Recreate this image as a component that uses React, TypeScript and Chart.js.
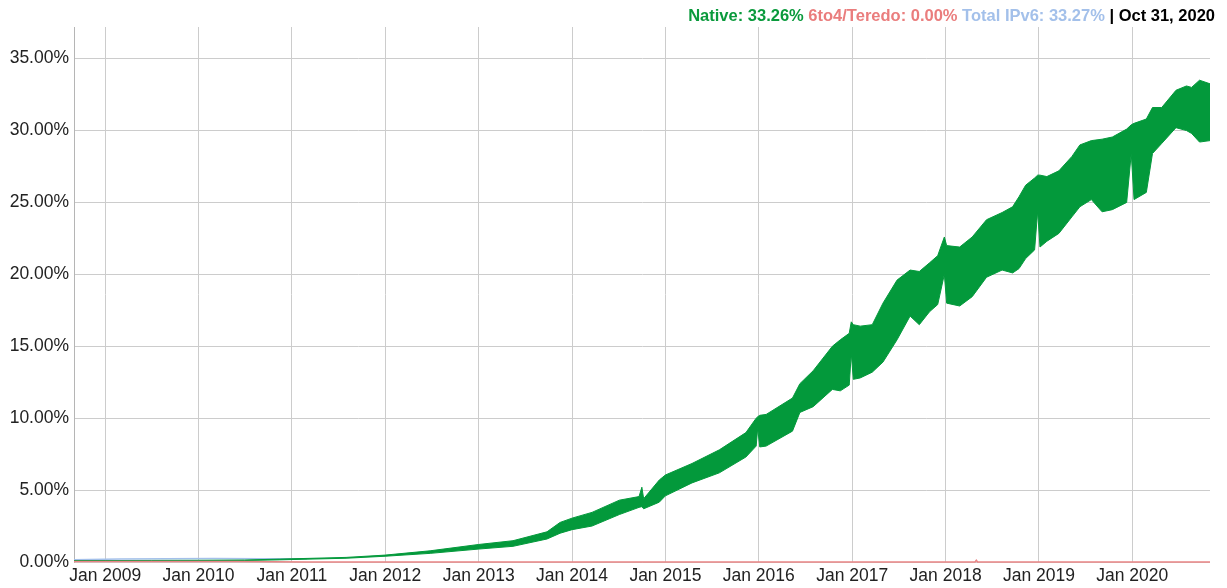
import React, { useEffect, useRef } from "react";
import { Chart, registerables } from "chart.js";

Chart.register(...registerables);

// ---- Data ----
// Native IPv6: weekly oscillation shown as an envelope (weekday low / weekend high)
const nativeDates: string[] = [
  "2008-09-01", "2009-01-01", "2009-07-01", "2010-01-01", "2010-07-01", "2010-11-15",
  "2011-08-01", "2012-01-01", "2012-06-25", "2013-01-01", "2013-05-15", "2013-09-25",
  "2013-11-15", "2014-01-01", "2014-03-20", "2014-07-05", "2014-09-20", "2014-10-01",
  "2014-10-08", "2014-12-08", "2015-01-01", "2015-04-15", "2015-07-31", "2015-11-12",
  "2015-12-22", "2015-12-28", "2016-01-05", "2016-01-30", "2016-05-12", "2016-06-10",
  "2016-08-01", "2016-10-15", "2016-11-15", "2016-12-20", "2016-12-28", "2017-01-05",
  "2017-02-01", "2017-03-20", "2017-05-01", "2017-06-25", "2017-08-15", "2017-09-20",
  "2017-10-30", "2017-12-01", "2017-12-27", "2018-01-05", "2018-02-25", "2018-04-15",
  "2018-06-10", "2018-08-10", "2018-09-20", "2018-10-15", "2018-11-10", "2018-12-15",
  "2018-12-27", "2019-01-05", "2019-02-01", "2019-03-20", "2019-05-10", "2019-06-10",
  "2019-07-25", "2019-09-05", "2019-10-15", "2019-12-10", "2019-12-28", "2020-01-08",
  "2020-02-25", "2020-03-20", "2020-04-25", "2020-06-20", "2020-07-31", "2020-08-20",
  "2020-09-20", "2020-10-31",
];
const nativeHigh: number[] = [
  0.10, 0.10, 0.11, 0.12, 0.14, 0.20,
  0.32, 0.48, 0.78, 1.22, 1.48, 2.10,
  2.75, 3.05, 3.45, 4.30, 4.55, 5.20,
  4.40, 5.70, 6.05, 6.85, 7.80, 9.00,
  10.00, 10.10, 10.20, 10.26, 11.40, 12.40,
  13.30, 15.00, 15.45, 15.90, 16.70, 16.50,
  16.40, 16.50, 18.00, 19.60, 20.30, 20.20,
  20.80, 21.30, 22.60, 22.00, 21.90, 22.60,
  23.80, 24.30, 24.70, 25.40, 26.20, 26.70,
  26.90, 26.90, 26.80, 27.20, 28.20, 29.00,
  29.30, 29.40, 29.55, 30.10, 30.40, 30.50,
  30.80, 31.60, 31.60, 32.80, 33.10, 33.00,
  33.50, 33.25,
];
const nativeLow: number[] = [
  0.06, 0.07, 0.08, 0.09, 0.10, 0.15,
  0.26, 0.40, 0.60, 0.90, 1.09, 1.60,
  2.00, 2.25, 2.50, 3.30, 3.80, 3.85,
  3.70, 4.16, 4.60, 5.50, 6.20, 7.30,
  8.06, 9.30, 8.00, 8.06, 9.10, 10.40,
  10.80, 12.00, 11.90, 12.30, 14.50, 12.70,
  12.80, 13.20, 13.90, 15.45, 17.10, 16.50,
  17.40, 17.90, 20.00, 18.00, 17.80, 18.45,
  19.80, 20.30, 20.10, 20.40, 21.10, 21.70,
  24.40, 21.90, 22.30, 22.85, 24.00, 24.70,
  25.20, 24.35, 24.50, 25.00, 28.40, 25.20,
  25.70, 28.40, 29.10, 30.20, 30.00, 29.80,
  29.20, 29.30,
];

// Total IPv6 (only distinguishable from Native in the early years)
const totalDates: string[] = ["2008-09-01", "2009-03-01", "2009-09-01", "2010-03-01", "2010-09-01", "2011-03-01"];
const totalValues: number[] = [0.16, 0.20, 0.22, 0.24, 0.22, 0.22];

// 6to4/Teredo
const teredoDates: string[] = ["2008-09-01", "2010-06-01", "2011-03-01", "2018-04-26", "2018-05-01", "2018-05-06", "2020-10-31"];
const teredoValues: number[] = [0.03, 0.03, 0.0, 0.0, 0.12, 0.0, 0.0];

const yearTicks: number[] = [2009, 2010, 2011, 2012, 2013, 2014, 2015, 2016, 2017, 2018, 2019, 2020];
const yTicks: number[] = [0, 5, 10, 15, 20, 25, 30, 35];

const legendParts = [
  { text: "Native: 33.26%", color: "#0a9a3c" },
  { text: "6to4/Teredo: 0.00%", color: "#ea7d7d" },
  { text: "Total IPv6: 33.27%", color: "#a3c0ea" },
];
const legendDate = "Oct 31, 2020";

// ---- helpers ----
const ts = (s: string) => {
  const [y, m, d] = s.split("-").map(Number);
  return Date.UTC(y, m - 1, d);
};
const pts = (dates: string[], vals: number[]) => dates.map((d, i) => ({ x: ts(d), y: vals[i] }));

const GREEN = "#03993b";
const FONT = 'Arial, "Liberation Sans", sans-serif';

export default function App() {
  const ref = useRef<HTMLCanvasElement | null>(null);

  useEffect(() => {
    if (!ref.current) return;
    const chart = new Chart(ref.current, {
      type: "line",
      data: {
        datasets: [
          {
            label: "native-low",
            data: pts(nativeDates, nativeLow),
            borderColor: GREEN,
            borderWidth: 1,
            pointRadius: 0,
            fill: false,
            order: 1,
          },
          {
            label: "native-high",
            data: pts(nativeDates, nativeHigh),
            borderColor: GREEN,
            backgroundColor: GREEN,
            borderWidth: 1,
            pointRadius: 0,
            fill: 0,
            order: 1,
          },
          {
            label: "total",
            data: pts(totalDates, totalValues),
            borderColor: "#a3c0ea",
            borderWidth: 1.5,
            pointRadius: 0,
            fill: false,
            order: 2,
          },
          {
            label: "teredo",
            data: pts(teredoDates, teredoValues),
            borderColor: "#e98585",
            borderWidth: 1.5,
            pointRadius: 0,
            fill: false,
            clip: 4,
            order: 0,
          },
        ],
      },
      options: {
        responsive: false,
        animation: false,
        events: [],
        layout: { padding: { top: 27, right: 17, left: 0, bottom: 0 } },
        plugins: { legend: { display: false }, tooltip: { enabled: false } },
        elements: { line: { tension: 0 } },
        scales: {
          x: {
            type: "linear",
            min: ts("2008-09-01"),
            max: ts("2020-10-31"),
            afterBuildTicks: (scale: any) => {
              scale.ticks = yearTicks.map((y) => ({ value: Date.UTC(y, 0, 1) }));
            },
            afterFit: (scale: any) => {
              scale.height = 26;
            },
            grid: { color: "#cccccc", lineWidth: 1, drawTicks: false },
            border: { display: false },
            ticks: {
              autoSkip: false,
              maxRotation: 0,
              padding: 4,
              color: "#222222",
              font: { family: FONT, size: 17.5 },
              callback: (v: any) => "Jan " + new Date(Number(v)).getUTCFullYear(),
            },
          },
          y: {
            type: "linear",
            min: 0,
            max: 37.2,
            afterBuildTicks: (scale: any) => {
              scale.ticks = yTicks.map((v) => ({ value: v }));
            },
            afterFit: (scale: any) => {
              scale.width = 74;
            },
            grid: { color: "#cccccc", lineWidth: 1, drawTicks: false },
            border: { display: true, color: "#b5b5b5" },
            ticks: {
              padding: 5,
              color: "#222222",
              font: { family: FONT, size: 17.5 },
              callback: (v: any) => Number(v).toFixed(2) + "%",
            },
          },
        },
      },
    } as any);
    return () => chart.destroy();
  }, []);

  return (
    <div style={{ position: "fixed", left: 0, top: 0, width: 1227, height: 588, background: "#fff" }}>
      <canvas ref={ref} width={1227} height={588} style={{ display: "block" }} />
      <div
        style={{
          position: "absolute",
          right: 12,
          top: 6,
          font: `bold 16.5px ${FONT}`,
          lineHeight: "19px",
          whiteSpace: "nowrap",
        }}
      >
        {legendParts.map((p, i) => (
          <span key={i} style={{ color: p.color }}>
            {p.text}{" "}
          </span>
        ))}
        <span style={{ color: "#000" }}>| {legendDate}</span>
      </div>
    </div>
  );
}
